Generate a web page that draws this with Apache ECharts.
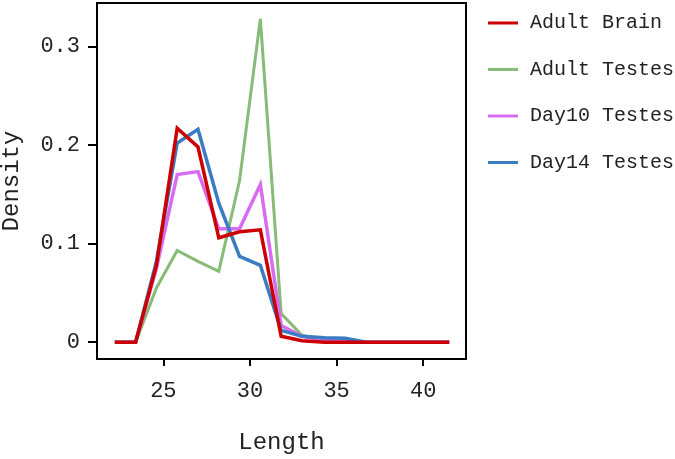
<!DOCTYPE html>
<html>
<head>
<meta charset="utf-8">
<script src="https://cdn.jsdelivr.net/npm/echarts@6/dist/echarts.min.js"></script>
<style>html,body{margin:0;padding:0;background:#fff}#c{width:675px;height:459px}</style>
</head>
<body>
<div id="c"></div>
<script>
const lengths = [22.2, 23.4, 24.6, 25.8, 27.0, 28.2, 29.4, 30.6, 31.8, 33.0, 34.3, 35.5, 36.7, 37.9, 39.1, 40.3, 41.5];
const adultBrain   = [0, 0, 0.078, 0.217, 0.198, 0.106, 0.112, 0.114, 0.006, 0.0015, 0, 0, 0, 0, 0, 0, 0];
const adultTestes  = [0, 0, 0.055, 0.093, 0.082, 0.072, 0.164, 0.328, 0.029, 0.007, 0.002, 0.001, 0, 0, 0, 0, 0];
const day10Testes  = [0, 0, 0.075, 0.170, 0.173, 0.115, 0.115, 0.160, 0.017, 0.006, 0.002, 0.001, 0, 0, 0, 0, 0];
const day14Testes  = [0, 0, 0.082, 0.202, 0.216, 0.141, 0.087, 0.078, 0.012, 0.006, 0.0045, 0.004, 0, 0, 0, 0, 0];
const xTicks = [25, 30, 35, 40];
const yTicks = [0, 0.1, 0.2, 0.3];
const seriesNames = ['Adult Brain', 'Adult Testes', 'Day10 Testes', 'Day14 Testes'];
const colors = {'Adult Brain': '#cc0000', 'Adult Testes': '#86bb78', 'Day10 Testes': '#d86cf0', 'Day14 Testes': '#3a7cc2'};

const pairs = v => lengths.map((x, i) => [x, v[i]]);
const font = 'Liberation Mono';
const chart = echarts.init(document.getElementById('c'));
const mk = (name, vals, w) => ({
  name, type: 'line', data: pairs(vals), showSymbol: false, symbol: 'none',
  lineStyle: {color: colors[name], width: w, join: 'miter'}, itemStyle: {color: colors[name]},
  animation: false
});
chart.setOption({
  animation: false,
  grid: {left: 97, right: 209, top: 3, bottom: 100, show: true, borderColor: '#000', borderWidth: 2,
    containLabel: false, outerBoundsMode: 'none'},
  legend: {
    orient: 'vertical', left: 483, top: 8, itemWidth: 30, itemHeight: 3, itemGap: 26.5,
    icon: 'rect',
    data: seriesNames,
    textStyle: {fontFamily: font, fontSize: 20, color: '#222', padding: [0, 0, 0, 7]}
  },
  xAxis: {
    type: 'value', min: 21.17, max: 42.47,
    name: 'Length', nameLocation: 'middle', nameGap: 72,
    nameTextStyle: {fontFamily: font, fontSize: 24, color: '#222'},
    axisLine: {show: true, onZero: false, lineStyle: {color: '#000', width: 2}},
    axisTick: {show: true, customValues: xTicks, length: 7, lineStyle: {color: '#000', width: 2}},
    axisLabel: {customValues: xTicks, fontFamily: font, fontSize: 22, color: '#222', margin: 21},
    splitLine: {show: false}
  },
  yAxis: {
    type: 'value', min: -0.017, max: 0.344,
    name: 'Density', nameLocation: 'middle', nameGap: 73, nameRotate: 90,
    nameTextStyle: {fontFamily: font, fontSize: 24, color: '#222'},
    axisLine: {show: true, onZero: false, lineStyle: {color: '#000', width: 2}},
    axisTick: {show: true, customValues: yTicks, length: 9, lineStyle: {color: '#000', width: 2}},
    axisLabel: {customValues: yTicks, fontFamily: font, fontSize: 22, color: '#222', margin: 17,
      formatter: v => v === 0 ? '0' : v.toFixed(1)},
    splitLine: {show: false}
  },
  series: [
    mk('Adult Testes', adultTestes, 3),
    mk('Day10 Testes', day10Testes, 3.5),
    mk('Day14 Testes', day14Testes, 3.5),
    mk('Adult Brain', adultBrain, 3.5)
  ]
});
</script>
</body>
</html>
